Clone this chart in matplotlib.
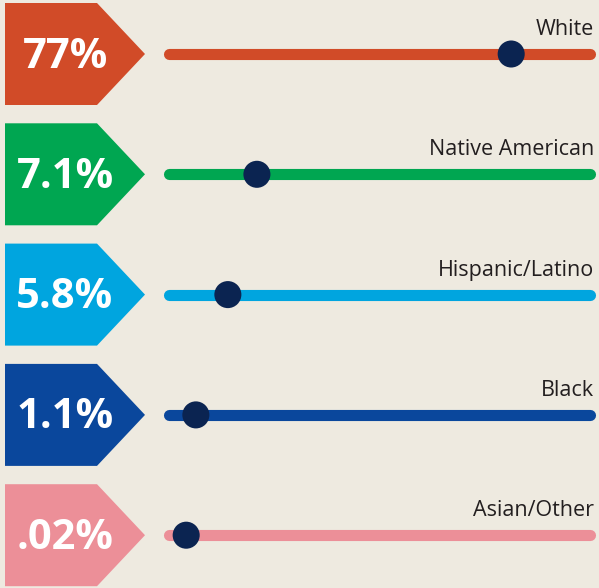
import matplotlib
matplotlib.use("Agg")
import matplotlib.pyplot as plt
from matplotlib.patches import Polygon

# ──────────────────────────────────────────────
# Data
# ──────────────────────────────────────────────
groups = ["White", "Native American", "Hispanic/Latino", "Black", "Asian/Other"]
pct_labels = ["77%", "7.1%", "5.8%", "1.1%", ".02%"]
# slider knob position along the track (0-100), as drawn in the graphic
knob_pos = [81.4, 21.0, 14.1, 6.5, 4.2]

colors = ["#D14B28", "#00A651", "#00A5DF", "#0A479C", "#EC8F98"]
KNOB_COLOR = "#0B2451"
BG = "#EEEAE0"

# ──────────────────────────────────────────────
# Layout (pixel coords)
# ──────────────────────────────────────────────
W, H = 599, 588
ROW_Y0, ROW_STEP = 54, 120.3
BOX_X0, BOX_X1, TIP_X = 5, 97, 145
BOX_HALF = 51
TRACK_X0, TRACK_X1 = 168.5, 589.5

fig = plt.figure(figsize=(W / 100, H / 100), dpi=100)
fig.patch.set_facecolor(BG)
ax = fig.add_axes([0, 0, 1, 1])
ax.set_xlim(0, W)
ax.set_ylim(H, 0)
ax.axis("off")
ax.set_facecolor(BG)

for i, (name, lab, pos, col) in enumerate(zip(groups, pct_labels, knob_pos, colors)):
    yc = ROW_Y0 + i * ROW_STEP

    # arrow-shaped tag
    tag = Polygon(
        [(BOX_X0, yc - BOX_HALF), (BOX_X1, yc - BOX_HALF), (TIP_X, yc),
         (BOX_X1, yc + BOX_HALF), (BOX_X0, yc + BOX_HALF)],
        closed=True, facecolor=col, edgecolor="none", zorder=2)
    ax.add_patch(tag)
    ax.text(65, yc + 3, lab, color="white", fontsize=30, fontweight="bold",
            family="Open Sans", ha="center", va="center", zorder=3)

    # slider track
    ax.plot([TRACK_X0, TRACK_X1], [yc, yc], color=col, lw=8,
            solid_capstyle="round", zorder=2)
    kx = TRACK_X0 + pos / 100 * (TRACK_X1 - TRACK_X0)
    ax.scatter([kx], [yc], s=27 ** 2 * 0.52, color=KNOB_COLOR, zorder=4,
               edgecolors="none")

    # group label
    ax.text(594, yc - 19, name, color="#231F20", fontsize=15.5,
            family="Open Sans", ha="right", va="baseline", zorder=3)

fig.savefig("out.png", dpi=100, facecolor=BG)
